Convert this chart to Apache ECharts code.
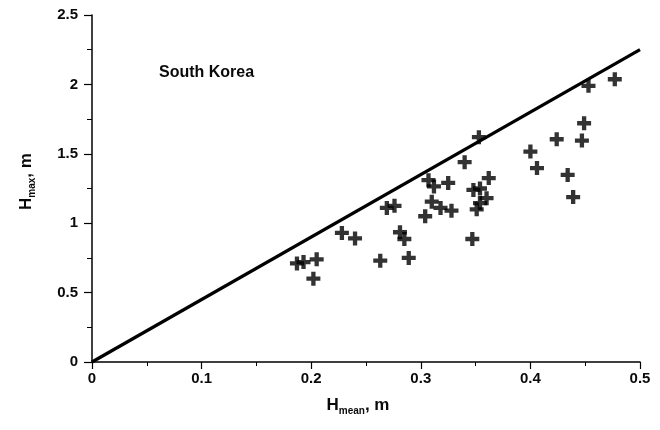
<!DOCTYPE html>
<html>
<head>
<meta charset="utf-8">
<script src="https://cdn.jsdelivr.net/npm/echarts@6/dist/echarts.min.js"></script>
<style>html,body{margin:0;padding:0;background:#fff}#c{width:660px;height:430px}</style>
</head>
<body>
<div id="c"></div>
<script>
// Data
const hMean = [0.187,0.193,0.205,0.202,0.228,0.240,0.263,0.269,0.276,0.281,0.285,0.289,0.304,0.307,0.312,0.310,0.318,0.325,0.328,0.340,0.347,0.348,0.353,0.354,0.351,0.354,0.360,0.362,0.400,0.406,0.424,0.434,0.439,0.447,0.449,0.453,0.477];
const hMax  = [0.71,0.72,0.74,0.60,0.93,0.89,0.73,1.11,1.125,0.935,0.886,0.75,1.05,1.31,1.265,1.155,1.11,1.29,1.09,1.44,0.886,1.24,1.62,1.25,1.10,1.145,1.18,1.325,1.516,1.397,1.605,1.348,1.188,1.595,1.72,1.99,2.037];
const lineX = [0, 0.5];
const lineY = [0, 2.25];
const xTicks = [0, 0.1, 0.2, 0.3, 0.4, 0.5];
const yTicks = [0, 0.5, 1, 1.5, 2, 2.5];
const titleText = 'South Korea';

const chart = echarts.init(document.getElementById('c'), null, {renderer: 'canvas'});
const FONT = 'Liberation Sans, Arial, sans-serif';
const plus = 'path://M4.5,0h4v4.5h4.5v4h-4.5v4.5h-4v-4.5h-4.5v-4h4.5z';
const black = '#000';
const ink = '#0a0a0a';
chart.setOption({
  animation: false,
  backgroundColor: '#fff',
  grid: {left: 92, right: 20, top: 15, bottom: 68, containLabel: false},
  title: {text: titleText, left: 154, top: 60,
    textStyle: {fontFamily: FONT, fontWeight: 'bold', fontSize: 16, color: ink}},
  xAxis: {
    type: 'value', min: xTicks[0], max: xTicks[xTicks.length-1], interval: 0.1,
    name: '{b|H}{s|mean}{b|, m}', nameLocation: 'middle', nameGap: 35,
    nameTextStyle: {padding: [0, 16, 0, 0], rich: {
      b: {fontFamily: FONT, fontWeight: 'bold', fontSize: 17, color: ink, verticalAlign: 'top'},
      s: {fontFamily: FONT, fontWeight: 'bold', fontSize: 10, color: ink, verticalAlign: 'top', padding: [9, 0, 0, 0]}
    }},
    axisLine: {show: true, onZero: false, lineStyle: {color: black, width: 1.5}},
    axisTick: {show: true, inside: false, length: 7, lineStyle: {color: black, width: 1.2}},
    minorTick: {show: true, splitNumber: 2, length: 4, lineStyle: {color: black, width: 1}},
    splitLine: {show: false},
    axisLabel: {margin: 9, fontFamily: FONT, fontWeight: 'bold', fontSize: 15, color: ink,
      formatter: v => String(+v.toFixed(2))}
  },
  yAxis: {
    type: 'value', min: yTicks[0], max: yTicks[yTicks.length-1], interval: 0.5,
    name: '{b|H}{s|max}{b|, m}', nameLocation: 'middle', nameGap: 55, nameRotate: 90,
    nameTextStyle: {padding: [0, 0, 0, 14], rich: {
      b: {fontFamily: FONT, fontWeight: 'bold', fontSize: 17, color: ink, verticalAlign: 'top'},
      s: {fontFamily: FONT, fontWeight: 'bold', fontSize: 10, color: ink, verticalAlign: 'top', padding: [9, 0, 0, 0]}
    }},
    axisLine: {show: true, onZero: false, lineStyle: {color: black, width: 1.5}},
    axisTick: {show: true, inside: false, length: 8, lineStyle: {color: black, width: 1.2}},
    minorTick: {show: true, splitNumber: 2, length: 5, lineStyle: {color: black, width: 1}},
    splitLine: {show: false},
    axisLabel: {margin: 14, fontFamily: FONT, fontWeight: 'bold', fontSize: 15, color: ink,
      formatter: v => String(+v.toFixed(2))}
  },
  series: [
    {type: 'line', data: lineX.map((x, i) => [x, lineY[i]]), symbol: 'none', silent: true,
     lineStyle: {color: black, width: 3.2}, z: 2},
    {type: 'scatter', data: hMean.map((x, i) => [x, hMax[i]]), symbol: plus, symbolSize: 14,
     itemStyle: {color: black}, z: 3}
  ]
});
</script>
</body>
</html>
